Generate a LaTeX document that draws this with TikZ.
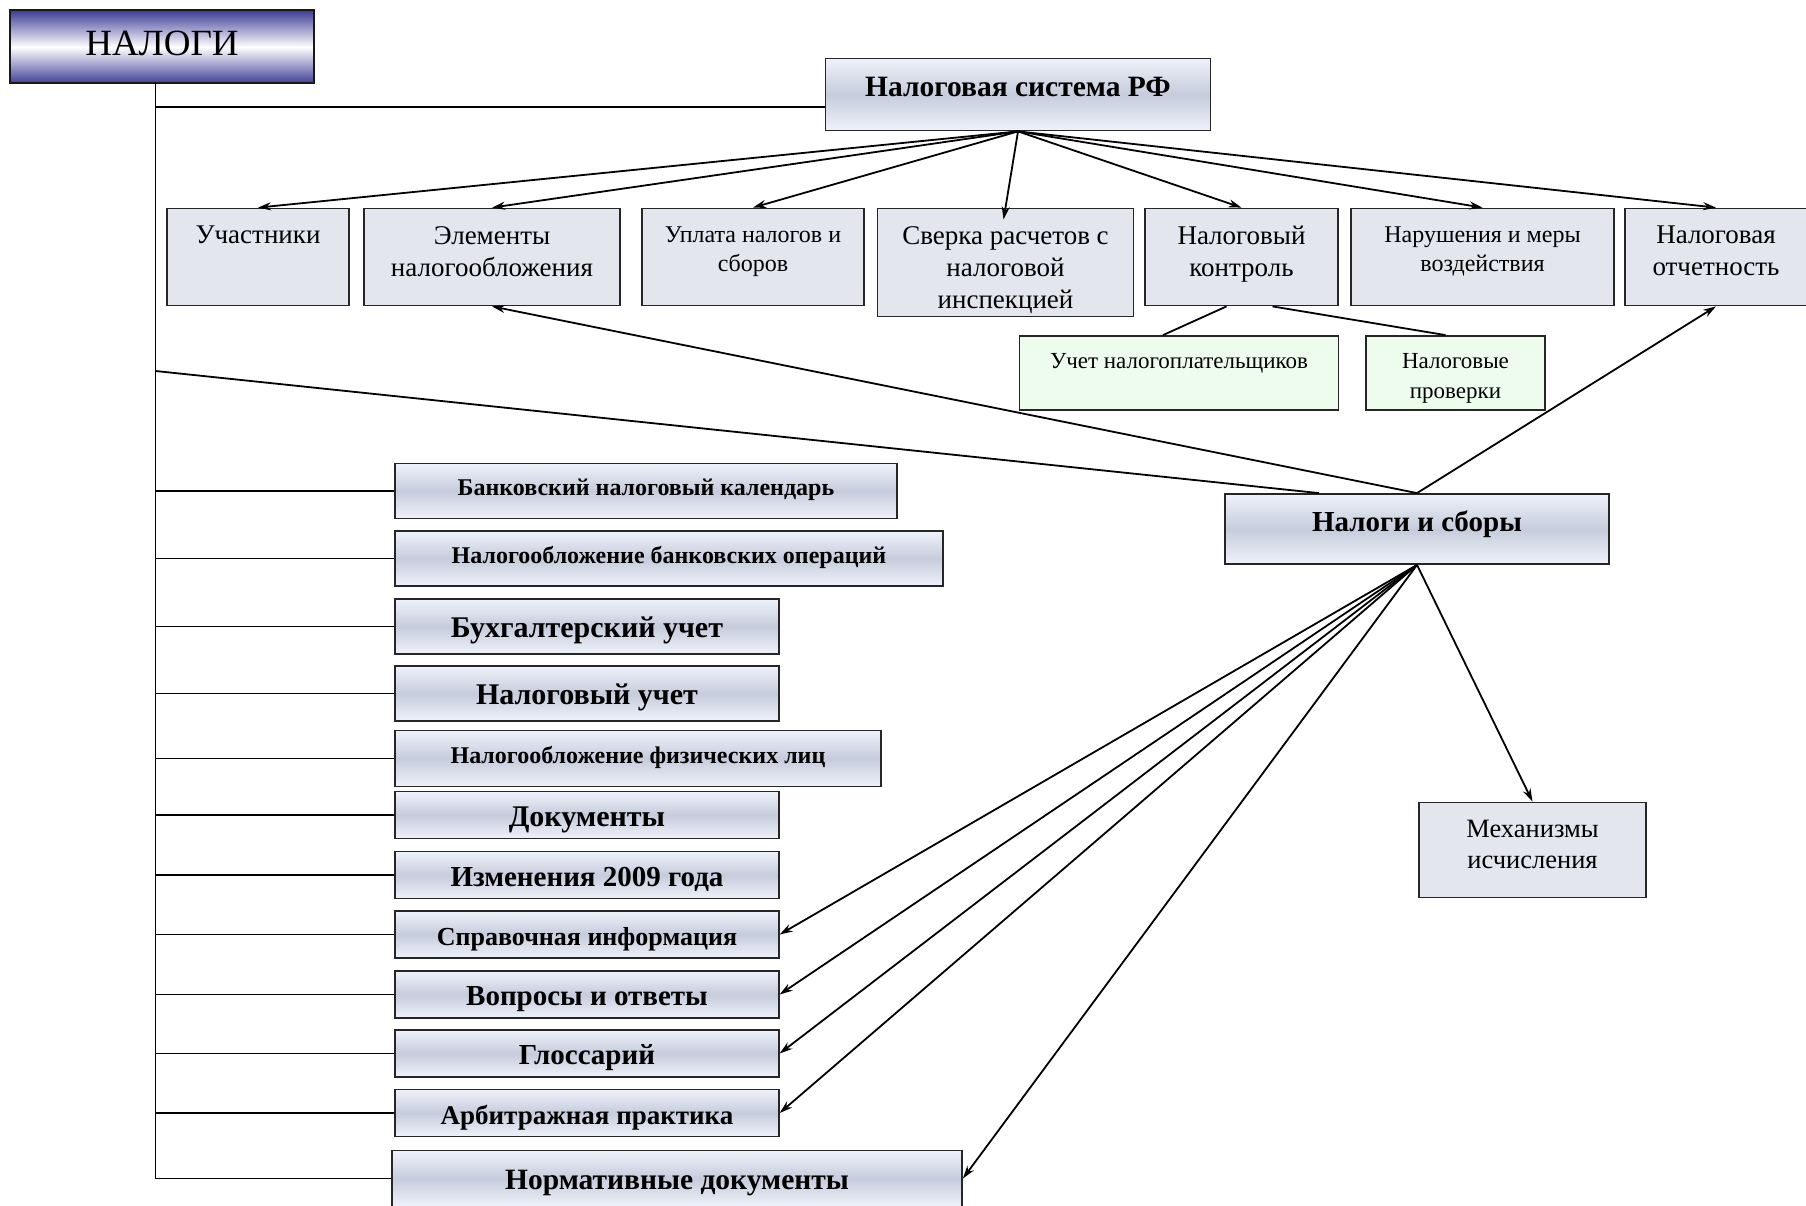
\documentclass[tikz,border=0pt]{standalone}
\usepackage{fontspec}
\setmainfont{Liberation Serif}
\usetikzlibrary{arrows.meta}

\definecolor{paleblue}{RGB}{238,242,250}
\definecolor{midblue}{RGB}{198,204,220}
\definecolor{flatgrey}{RGB}{228,230,238}
\definecolor{palegreen}{RGB}{238,252,238}
\definecolor{navyedge}{RGB}{62,62,152}

\newcommand\fsB{\fontsize{27}{32}\selectfont}
\newcommand\fsC{\fontsize{24}{29}\selectfont}
\newcommand\fsD{\fontsize{23}{30}\selectfont}
\newcommand\fsE{\fontsize{26.5}{31}\selectfont}

\tikzset{
  box/.style={draw=black!85, line width=1.8pt, fill=flatgrey, inner sep=0pt},
  gbox/.style={draw=black!85, line width=1.8pt, top color=paleblue, bottom color=paleblue, middle color=midblue, inner sep=0pt},
  nbox/.style={draw=black!90, line width=2pt, top color=navyedge, bottom color=navyedge, middle color=white, inner sep=0pt},
  lbl/.style={anchor=north, align=center, inner sep=0pt, yshift=-18.5pt},
  bigtxt/.style={text height=29pt, text depth=7pt},
  smalltxt/.style={text height=18pt, text depth=9pt},
  headtxt/.style={text height=22pt, text depth=18pt},
  conn/.style={line width=1.8pt}
}

\begin{document}
\begin{tikzpicture}[x=1pt, y=-1pt, >={Stealth[length=13pt,width=8pt]}]
  \useasboundingbox (0,0) rectangle (1806,1206);

  \node[nbox, minimum width=304, minimum height=73, text height=26pt, text depth=9.6pt, font=\fontsize{37}{40}\selectfont] (nalogi) at (162,47) {НАЛОГИ};
  \coordinate (tt) at (155.5,83);
  \coordinate (tb) at (155.5,371);

  \node[gbox, headtxt, minimum width=385, minimum height=72, font=\bfseries\fontsize{29.5}{34}\selectfont] (nsys) at (1018,94.5) {Налоговая система РФ};

  \node[box, minimum width=182, minimum height=97, label={[lbl,font=\fsB]north:Участники}] (uch) at (258,257) {};
  \node[box, minimum width=256, minimum height=97, label={[lbl,font=\fsB]north:Элементы\\налогообложения}] (elem) at (492,257) {};
  \node[box, minimum width=222, minimum height=97, label={[lbl,font=\fsC]north:Уплата налогов и\\сборов}] (upl) at (753,257) {};
  \node[box, minimum width=256, minimum height=108, label={[lbl,font=\fsB]north:Сверка расчетов с\\налоговой\\инспекцией}] (sver) at (1005.5,262.5) {};
  \node[box, minimum width=193, minimum height=97, label={[lbl,font=\fsB]north:Налоговый\\контроль}] (ctl) at (1241.5,257) {};
  \node[box, minimum width=263, minimum height=97, label={[lbl,font=\fsC]north:Нарушения и меры\\воздействия}] (nar) at (1482.5,257) {};
  \node[box, minimum width=182, minimum height=97, label={[lbl,font=\fsB]north:Налоговая\\отчетность}] (otch) at (1716,257) {};

  \node[box, fill=palegreen, minimum width=319, minimum height=74, label={[lbl,font=\fsD]north:Учет налогоплательщиков}] (uchet) at (1179,373) {};
  \node[box, fill=palegreen, minimum width=179, minimum height=74, label={[lbl,font=\fsD]north:Налоговые\\проверки}] (prov) at (1455.5,373) {};

  \node[gbox, headtxt, minimum width=384, minimum height=70, font=\bfseries\fontsize{29}{34}\selectfont] (ns) at (1417,529) {Налоги и сборы};
  \node[box, minimum width=227, minimum height=95, label={[lbl,font=\fsE]north:Механизмы\\исчисления}] (mech) at (1532.5,850) {};

  \node[gbox, smalltxt, minimum width=502, minimum height=55, font=\bfseries\fontsize{24}{28}\selectfont] (cal) at (646,491) {Банковский налоговый календарь};
  \node[gbox, smalltxt, minimum width=548, minimum height=55, font=\bfseries\fontsize{24}{28}\selectfont] (bop) at (669,558.5) {Налогообложение банковских операций};
  \node[gbox, bigtxt, minimum width=383.5, minimum height=55, font=\bfseries\fontsize{30}{34}\selectfont] (buh) at (587,626.5) {Бухгалтерский учет};
  \node[gbox, bigtxt, minimum width=383.5, minimum height=55, font=\bfseries\fontsize{30}{34}\selectfont] (nuch) at (587,693.5) {Налоговый учет};
  \node[gbox, smalltxt, minimum width=486, minimum height=56, font=\bfseries\fontsize{24}{28}\selectfont] (fiz) at (638,758.5) {Налогообложение физических лиц};
  \node[gbox, bigtxt, minimum width=383.5, minimum height=47, font=\bfseries\fontsize{30}{34}\selectfont] (doc) at (587,815) {Документы};
  \node[gbox, bigtxt, minimum width=383.5, minimum height=47, font=\bfseries\fontsize{29}{34}\selectfont] (izm) at (587,875) {Изменения 2009 года};
  \node[gbox, bigtxt, minimum width=383.5, minimum height=47, font=\bfseries\fontsize{26}{30}\selectfont] (spr) at (587,934.5) {Справочная информация};
  \node[gbox, bigtxt, minimum width=383.5, minimum height=47, font=\bfseries\fontsize{29}{34}\selectfont] (vop) at (587,994.5) {Вопросы и ответы};
  \node[gbox, bigtxt, minimum width=383.5, minimum height=47, font=\bfseries\fontsize{29}{34}\selectfont] (glos) at (587,1053.5) {Глоссарий};
  \node[gbox, bigtxt, minimum width=383.5, minimum height=47, font=\bfseries\fontsize{27}{32}\selectfont] (arb) at (587,1113) {Арбитражная практика};
  \node[gbox, bigtxt, minimum width=570, minimum height=56, font=\bfseries\fontsize{29.5}{34}\selectfont] (norm) at (677,1178.5) {Нормативные документы};

  \draw[conn] (tt) |- (norm.west);
  \draw[conn] ([yshift=-12.5pt]nsys.west) -| (tt);
  \foreach \b in {cal,bop,buh,nuch,fiz,doc,izm,spr,vop,glos,arb}
    \draw[conn] (\b.west) -- (\b.west -| tt);

  \foreach \t in {uch,elem,upl,ctl,nar,otch}
    \draw[conn,->] (nsys.south) -- (\t.north);
  \draw[conn,->,shorten >=-12pt] (nsys.south) -- (sver.north);

  \draw[conn] ([xshift=-15pt]ctl.south) -- ([xshift=-16pt]uchet.north);
  \draw[conn] ([xshift=31pt]ctl.south) -- ([xshift=-10pt]prov.north);

  \draw[conn] (tb) -- ([xshift=-98pt]ns.north);
  \draw[conn,->] (ns.north) -- (elem.south);
  \draw[conn,->] (ns.north) -- (otch.south);

  \draw[conn,->] (ns.south) -- (mech.north);
  \foreach \t in {spr,vop,glos,arb,norm}
    \draw[conn,->] (ns.south) -- (\t.east);
\end{tikzpicture}
\end{document}
